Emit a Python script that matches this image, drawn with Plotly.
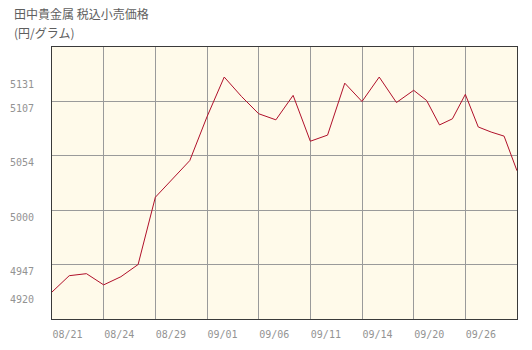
import plotly.graph_objects as go

# ---- data ----
dates = ["08/21", "08/22", "08/23", "08/24", "08/25", "08/28", "08/29", "08/30", "08/31",
         "09/01", "09/04", "09/05", "09/06", "09/07", "09/08", "09/11", "09/12", "09/13",
         "09/14", "09/15", "09/19", "09/20", "09/21", "09/22", "09/25", "09/26", "09/27",
         "09/28", "09/29", "10/02"]
prices = [4920, 4936, 4938, 4927, 4935, 4947, 5013, 5031, 5049,
          5092, 5131, 5112, 5095, 5089, 5113, 5068, 5074, 5125,
          5107, 5131, 5106, 5118, 5108, 5084, 5090, 5114, 5082,
          5077, 5073, 5039]
x_labels = ["08/21", "08/24", "08/29", "09/01", "09/06", "09/11", "09/14", "09/20", "09/26"]
grid_values = [4947, 5000, 5054, 5107]
y_range = [4893.5, 5160.5]
title_line1 = "田中貴金属 税込小売価格"
title_line2 = "(円/グラム)"

# x position: each labelled date sits on its own gridline, dates between are spread evenly
label_idx = [dates.index(d) for d in x_labels]
xpos = []
for j in range(len(dates)):
    k = 0
    while k + 1 < len(label_idx) and label_idx[k + 1] <= j:
        k += 1
    if k + 1 < len(label_idx):
        step = 1.0 / (label_idx[k + 1] - label_idx[k])
    else:
        step = 1.0 / (label_idx[k] - label_idx[k - 1])
    xpos.append(k + (j - label_idx[k]) * step)

ymin, ymax = min(prices), max(prices)
y_ticks = [ymin] + grid_values + [ymax]

fig = go.Figure()
fig.add_trace(go.Scatter(
    x=xpos, y=prices, mode="lines",
    line=dict(color="#b0102a", width=1),
    text=dates, hovertemplate="%{text}: %{y}<extra></extra>",
))

tick_font = dict(family="DejaVu Sans Mono", size=10, color="#939393")
fig.update_layout(
    width=532, height=350,
    margin=dict(l=52, r=15, t=47, b=31),
    paper_bgcolor="white",
    plot_bgcolor="#fffaea",
    showlegend=False,
    xaxis=dict(
        range=[0, xpos[-1]],
        tickvals=list(range(len(x_labels))), ticktext=x_labels,
        ticklabelposition="outside right",
        showgrid=True, gridcolor="#9a9a9a", gridwidth=1,
        zeroline=False, ticks="", automargin=False,
        showline=True, linecolor="#3a3a3a", linewidth=1, mirror=True,
        tickfont=tick_font, ticklabelstandoff=6,
    ),
    yaxis=dict(
        range=y_range,
        tickvals=y_ticks, ticktext=[str(v) for v in y_ticks],
        ticklabelposition="outside bottom",
        showgrid=False, zeroline=False, ticks="", automargin=False,
        minor=dict(tickvals=grid_values, showgrid=True, gridcolor="#9a9a9a", gridwidth=1, ticks=""),
        showline=True, linecolor="#3a3a3a", linewidth=1, mirror=True,
        tickfont=tick_font, ticklabelstandoff=15,
    ),
    annotations=[
        dict(text=title_line1, xref="paper", yref="paper", x=-40 / 465, y=(319 - 13) / 272,
             xanchor="left", yanchor="middle", showarrow=False,
             font=dict(family="Noto Sans CJK JP", size=12, color="#5e5e5e")),
        dict(text=title_line2, xref="paper", yref="paper", x=-40 / 465, y=(319 - 33) / 272,
             xanchor="left", yanchor="middle", showarrow=False,
             font=dict(family="Noto Sans CJK JP", size=12, color="#5e5e5e")),
    ],
)

fig.write_html("out.html")
